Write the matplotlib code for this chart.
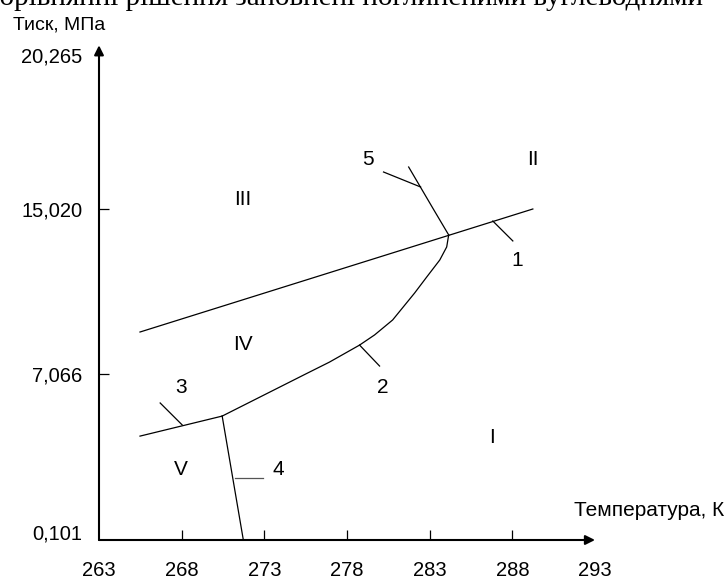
import matplotlib
matplotlib.use("Agg")
import numpy as np
from matplotlib import pyplot as plt

plt.rcParams["font.family"] = ["Liberation Sans", "DejaVu Sans"]

# axis ticks (pressure axis is drawn with equal spacing between labelled levels)
x_ticks = [263, 268, 273, 278, 283, 288, 293]
y_ticks = [0.101, 7.066, 15.020, 20.265]
y_tick_labels = ["0,101", "7,066", "15,020", "20,265"]
y_tick_offsets = [0, 166, 331, 485]

# phase boundary lines: temperature K, pressure MPa
line1_t = [265.48, 289.24]
line1_p = [9.09, 15.02]
line2_t = [270.45, 275.5, 276.94, 278.76, 279.67, 280.76, 282.09, 282.82, 283.61, 284.03, 284.15]
line2_p = [5.30, 7.066, 7.64, 8.46, 8.95, 9.67, 10.97, 11.74, 12.56, 13.19, 13.77]
line3_t = [265.48, 270.45]
line3_p = [4.46, 5.30]
line4_t = [270.45, 271.73]
line4_p = [5.30, 0.101]
line5_t = [284.15, 283.22, 281.73]
line5_p = [13.77, 15.02, 16.45]

# leader marks for curve numbers: (t0, p0, t1, p1)
leaders = {
    "1": (286.82, 14.44, 288.03, 13.48),
    "2": (278.76, 8.46, 279.97, 7.45),
    "3": (268.03, 4.93, 266.70, 5.85),
    "4": (271.24, 2.70, 272.94, 2.70),
    "5": (282.45, 15.77, 280.21, 16.28),
}
number_labels = {
    "1": (288.27, 12.56),
    "2": (280.15, 6.52),
    "3": (267.97, 6.52),
    "4": (273.85, 3.04),
    "5": (279.24, 16.69),
}
region_labels = {
    "I": (286.76, 4.42),
    "II": (289.24, 16.69),
    "III": (271.67, 15.33),
    "IV": (271.73, 8.51),
    "V": (267.97, 3.08),
}


def fwd(p):
    return np.interp(p, y_ticks, y_tick_offsets)


def inv(v):
    return np.interp(v, y_tick_offsets, y_ticks)


fig = plt.figure(figsize=(7.24, 5.8), dpi=100)
ax = fig.add_axes([99 / 724, 40 / 580, 496 / 724, 485 / 580])
ax.set_yscale("function", functions=(fwd, inv))
ax.set_xlim(263, 293)
ax.set_ylim(0.101, 20.265)

for t, p in [(line1_t, line1_p), (line2_t, line2_p), (line3_t, line3_p),
             (line4_t, line4_p), (line5_t, line5_p)]:
    ax.plot(t, p, color="black", lw=0.9)

for key, (t0, p0, t1, p1) in leaders.items():
    ax.plot([t0, t1], [p0, p1], color="#555555" if key == "4" else "black", lw=0.9)

for text, (t, p) in number_labels.items():
    ax.text(t, p, text, ha="center", va="center", fontsize=15)
for text, (t, p) in region_labels.items():
    ax.text(t, p, text, ha="center", va="center", fontsize=15)

for side in ["top", "right", "left", "bottom"]:
    ax.spines[side].set_visible(False)

arrow = dict(arrowstyle="-|>", color="black", lw=1.5, mutation_scale=14, shrinkA=0, shrinkB=0)
ax.annotate("", xy=(0, 1.02), xytext=(0, 0), xycoords="axes fraction", arrowprops=arrow)
ax.annotate("", xy=(1.0, 0), xytext=(0, 0), xycoords="axes fraction", arrowprops=arrow)

ax.set_xticks(x_ticks)
ax.set_xticklabels([str(t) for t in x_ticks])
ax.set_yticks(y_ticks)
ax.set_yticklabels(y_tick_labels)
ax.minorticks_off()
ax.tick_params(axis="x", direction="in", length=7.5, width=0.9, pad=15, labelsize=14.5)
ax.tick_params(axis="y", direction="in", length=7.5, width=0.9, pad=12, labelsize=14.5)
for i in [0, -1]:
    ax.xaxis.get_major_ticks()[i].tick1line.set_visible(False)
    ax.yaxis.get_major_ticks()[i].tick1line.set_visible(False)
ax.yaxis.get_major_ticks()[0].label1.set_verticalalignment("baseline")

fig.text(13 / 724, 1 - 25 / 580, "Тиск, МПа", ha="left", va="center", fontsize=14)
fig.text(1.0, 1 - 510 / 580, "Температура, К", ha="right", va="center", fontsize=15)
fig.text(-16 / 724, 1 - 5 / 580, "порівнянні рішення заповнені поглиненими вуглеводнями",
         ha="left", va="baseline", fontsize=21, family="Liberation Serif")

fig.savefig("out.png", dpi=100)
